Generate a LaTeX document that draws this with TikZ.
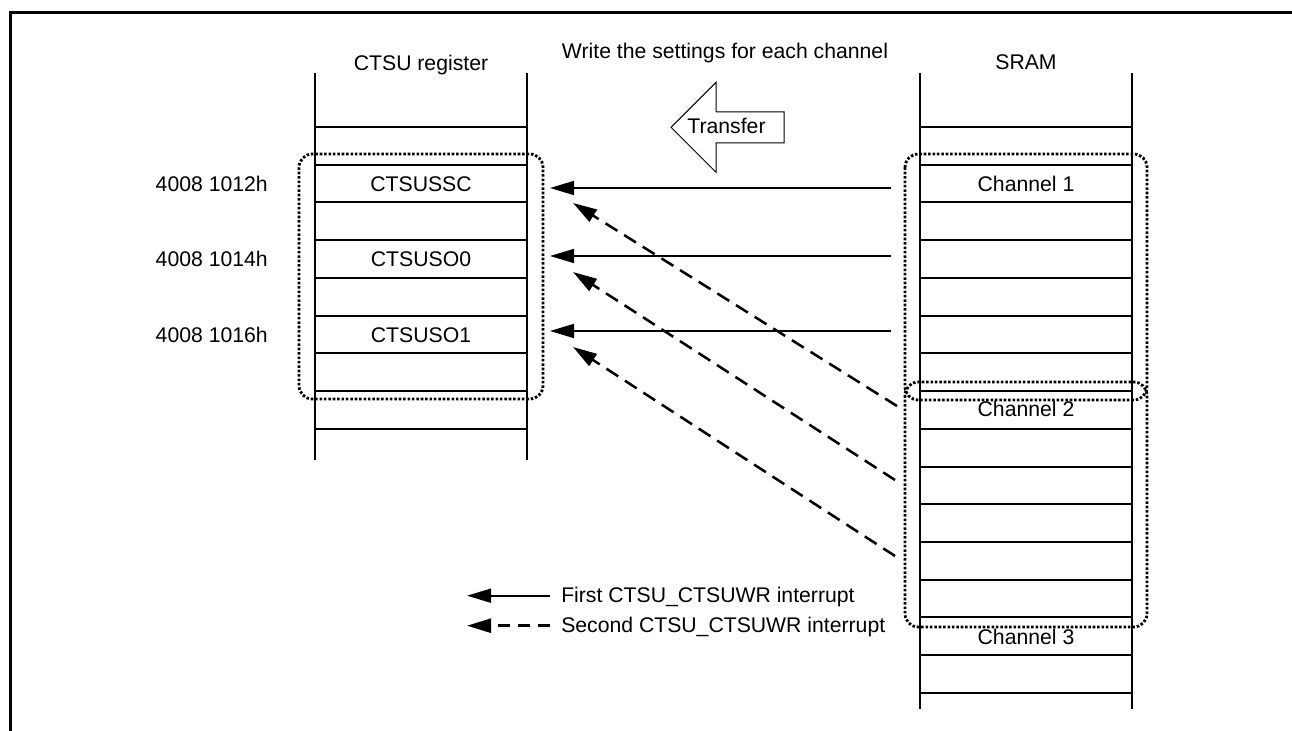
\documentclass[tikz,border=0pt]{standalone}
\usepackage{fontspec}
\setmainfont{Liberation Sans}
\usetikzlibrary{arrows.meta}
\begin{document}
\begin{tikzpicture}[x=0.75pt,y=-0.75pt,
  font=\fontsize{15.9pt}{19pt}\selectfont,
  lbl/.style={anchor=base,inner sep=0pt},
  col/.style={line width=1.5pt},
  dotbox/.style={line width=2.1pt,dash pattern=on 1.9pt off 1.4pt,rounded corners=10pt},
  solidarr/.style={line width=1.3pt,-{Triangle[length=18pt,width=10.5pt]}},
  dasharr/.style={line width=1.9pt,dash pattern=on 10.5pt off 6pt,-{Triangle[length=18pt,width=10.5pt]}},
  legdash/.style={line width=1.9pt,dash pattern=on 9pt off 6pt,-{Triangle[length=18pt,width=10.5pt]}}]
\useasboundingbox (0,0) rectangle (1292,731);
% frame
\draw[line width=2.25pt] (10.5,731) -- (10.5,12.5) -- (1292,12.5);
% headings
\node[lbl] (title) at (725,58.3) {Write the settings for each channel};
\node[lbl] (hreg) at (421,70.7) {CTSU register};
\node[lbl] (hsram) at (1026,70) {SRAM};
% left column
\draw[col] (315,73) -- (315,460);
\draw[col] (527,73) -- (527,460);
\foreach \k in {0,...,8} \draw[col] (315,127+37.73*\k) -- (527,127+37.73*\k);
% right column
\draw[col] (920,73) -- (920,709);
\draw[col] (1132,73) -- (1132,709);
\foreach \k in {0,...,15} \draw[col] (920,127+37.73*\k) -- (1132,127+37.73*\k);
% register texts
\node[lbl] (r1) at (421,191) {CTSUSSC};
\node[lbl] (r2) at (421,266.5) {CTSUSO0};
\node[lbl] (r3) at (421,342) {CTSUSO1};
\node[lbl,anchor=base east] (a1) at (268,191) {4008 1012h};
\node[lbl,anchor=base east] (a2) at (268,266.5) {4008 1014h};
\node[lbl,anchor=base east] (a3) at (268,342) {4008 1016h};
% SRAM texts
\node[lbl] (c1) at (1026,191) {Channel 1};
\node[lbl] (c2) at (1026,416.7) {Channel 2};
\node[lbl] (c3) at (1026,644) {Channel 3};
% dotted groups
\draw[dotbox] (299,154) rectangle (543,399);
\draw[dotbox] (905,154) rectangle (1147,400);
\draw[dotbox] (905,382) rectangle (1147,627);
% transfer arrow
\draw[line width=0.75pt] (671,127.3) -- (716,82.3) -- (716,112) -- (784,112) -- (784,143) -- (716,143) -- (716,172.3) -- cycle;
\node[lbl] (tr) at (726.5,134) {Transfer};
% first interrupt arrows
\coordinate (s1) at (891,188); \coordinate (t1) at (550,188);
\coordinate (s2) at (891,256); \coordinate (t2) at (550,256);
\coordinate (s3) at (891,331); \coordinate (t3) at (550,331);
\draw[solidarr] (s1) -- (t1);
\draw[solidarr] (s2) -- (t2);
\draw[solidarr] (s3) -- (t3);
% second interrupt arrows
\coordinate (d1) at (897,406); \coordinate (e1) at (573,203);
\coordinate (d2) at (895,480); \coordinate (e2) at (573,272);
\coordinate (d3) at (895,556); \coordinate (e3) at (573,347);
\draw[dasharr] (d1) -- (e1);
\draw[dasharr] (d2) -- (e2);
\draw[dasharr] (d3) -- (e3);
% legend
\coordinate (ls1) at (550,595.7); \coordinate (lt1) at (467,595.7);
\coordinate (ls2) at (550,625.7); \coordinate (lt2) at (467,625.7);
\draw[solidarr] (ls1) -- (lt1);
\draw[legdash] (ls2) -- (lt2);
\node[lbl,anchor=base west] (l1) at (561,602.3) {First CTSU\_CTSUWR interrupt};
\node[lbl,anchor=base west] (l2) at (561,632.3) {Second CTSU\_CTSUWR interrupt};
\end{tikzpicture}
\end{document}
